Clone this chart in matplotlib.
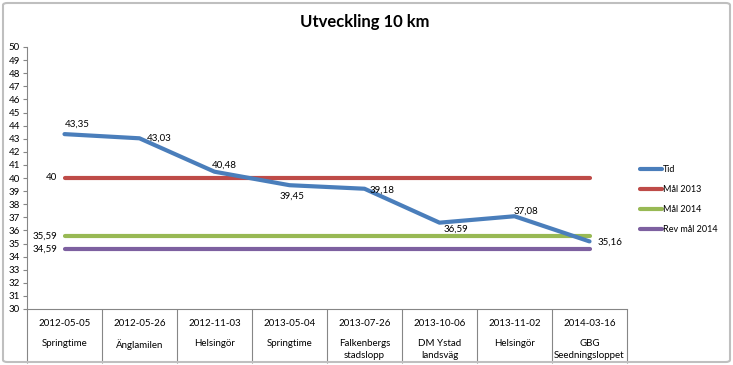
import matplotlib
matplotlib.use("Agg")
import matplotlib.pyplot as plt
from matplotlib.patches import FancyBboxPatch
import matplotlib.transforms as mtrans

plt.rcParams['font.family'] = ['Lato', 'DejaVu Sans']

dates = ["2012-05-05", "2012-05-26", "2012-11-03", "2013-05-04",
         "2013-07-26", "2013-10-06", "2013-11-02", "2014-03-16"]
races = ["Springtime", "Änglamilen", "Helsingör", "Springtime",
         "Falkenbergs\nstadslopp", "DM Ystad\nlandsväg", "Helsingör",
         "GBG\nSeedningsloppet"]
tid = [43.35, 43.03, 40.48, 39.45, 39.18, 36.59, 37.08, 35.16]
mal_2013 = [40] * 8
mal_2014 = [35.59] * 8
rev_mal_2014 = [34.59] * 8

W, H = 733, 365
fig = plt.figure(figsize=(W / 100, H / 100), dpi=100)
fig.patch.set_facecolor('white')

# outer border
fig.patches.append(FancyBboxPatch((3 / W, 3 / H), 727 / W, 359 / H,
                                  boxstyle="round,pad=0,rounding_size=0.006",
                                  transform=fig.transFigure, fill=False,
                                  edgecolor='#BFBFBF', linewidth=1.5))

ax = fig.add_axes([27 / W, (H - 309) / H, 600 / W, 262 / H])
x = list(range(len(dates)))

c_tid, c_13, c_14, c_rev = '#4A7EBB', '#BE4B48', '#98B954', '#7D60A0'
lw = 3.0
ax.plot(x, tid, color=c_tid, lw=lw, label='Tid', solid_capstyle='round', zorder=5)
ax.plot(x, mal_2013, color=c_13, lw=lw, label='Mål 2013', solid_capstyle='round')
ax.plot(x, mal_2014, color=c_14, lw=lw, label='Mål 2014', solid_capstyle='round')
ax.plot(x, rev_mal_2014, color=c_rev, lw=lw, label='Rev mål 2014', solid_capstyle='round')

ax.set_xlim(-0.5, len(dates) - 0.5)
ax.set_ylim(30, 50)
ax.set_yticks(range(30, 51))
ax.tick_params(axis='y', labelsize=7, length=3, color='#868686', pad=2)
for s in ['top', 'right']:
    ax.spines[s].set_visible(False)
ax.spines['left'].set_color('#868686')
ax.spines['bottom'].set_color('#868686')

# category boundaries
ax.set_xticks([i - 0.5 for i in range(len(dates) + 1)])
ax.set_xticklabels([])
ax.tick_params(axis='x', length=39, color='#868686', direction='out')

trans = mtrans.blended_transform_factory(ax.transData, fig.transFigure)
for i in x:
    ax.text(i, (H - 324) / H, dates[i], transform=trans, ha='center', va='center', fontsize=7)
    ax.text(i, (H - 339) / H, races[i], transform=trans, ha='center', va='top',
            fontsize=7, linespacing=1.45)

# data labels
def fmt(v):
    s = ('%.2f' % v).rstrip('0').rstrip('.')
    return s.replace('.', ',')

offsets = [(9, 7.5), (14.5, 0), (7, 5), (2, -8),
           (13, -1), (12, -4.5), (8, 4), (15, -0.5)]
for i, v in enumerate(tid):
    dx, dy = offsets[i]
    ax.annotate(fmt(v), (i, v), xytext=(dx, dy), textcoords='offset points',
                ha='center', va='center', fontsize=7, zorder=6)
for series in (mal_2013, mal_2014, rev_mal_2014):
    ax.annotate(fmt(series[0]), (0, series[0]), xytext=(-5, 0), textcoords='offset points',
                ha='right', va='center', fontsize=7)

fig.text(365 / W, (H - 22) / H, 'Utveckling 10 km', ha='center', va='center',
         fontsize=12, fontweight='bold')

fig.legend(loc='upper left', bbox_to_anchor=(640 / W, (H - 165) / H), frameon=False,
           fontsize=6.5, handlelength=2.4, handletextpad=0.1, labelspacing=1.22,
           borderaxespad=0, borderpad=0)

fig.savefig('out.png', dpi=100)
